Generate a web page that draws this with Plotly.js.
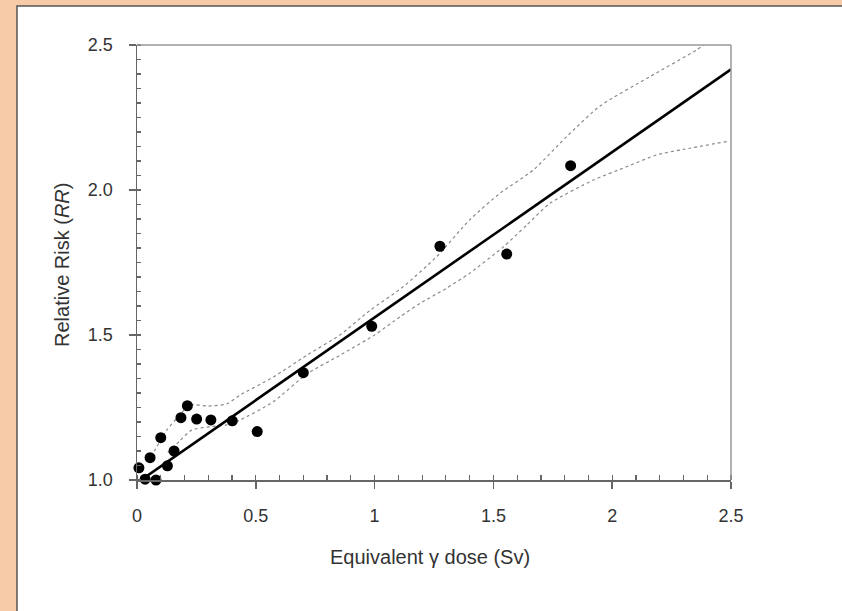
<!DOCTYPE html>
<html>
<head>
<meta charset="utf-8">
<script src="https://cdn.plot.ly/plotly-3.0.1.min.js"></script>
<style>html,body{margin:0;padding:0;background:#F8CBA8;}#chart{width:842px;height:611px;}</style>
</head>
<body>
<div id="chart"></div>
<script>
// Observed points
const doseX = [0.008, 0.034, 0.08, 0.055, 0.10, 0.128, 0.156, 0.185, 0.212, 0.251, 0.311, 0.401, 0.506, 0.70, 0.988, 1.275, 1.556, 1.825];
const rrY   = [1.042, 1.003, 1.0, 1.077, 1.146, 1.049, 1.10, 1.215, 1.256, 1.21, 1.207, 1.204, 1.167, 1.37, 1.53, 1.806, 1.779, 2.084];
// Fitted line
const fitX = [0, 2.5];
const fitY = [0.99, 2.416];
// Upper confidence curve
const upperX = [0.06, 0.125, 0.18, 0.223, 0.30, 0.377, 0.434, 0.574, 0.714, 0.854, 0.981, 1.121, 1.261, 1.40, 1.528, 1.668, 1.808, 1.949, 2.159, 2.355, 2.40];
const upperY = [1.08, 1.172, 1.224, 1.259, 1.255, 1.262, 1.293, 1.355, 1.43, 1.50, 1.585, 1.667, 1.77, 1.897, 1.989, 2.069, 2.184, 2.29, 2.391, 2.483, 2.51];
// Lower confidence curve
const lowerX = [0.13, 0.18, 0.23, 0.307, 0.377, 0.434, 0.574, 0.714, 0.854, 1.0, 1.107, 1.191, 1.30, 1.40, 1.542, 1.64, 1.738, 1.92, 2.06, 2.187, 2.30, 2.482];
const lowerY = [1.095, 1.135, 1.172, 1.184, 1.19, 1.207, 1.27, 1.365, 1.43, 1.50, 1.563, 1.609, 1.66, 1.713, 1.804, 1.879, 1.954, 2.034, 2.08, 2.121, 2.14, 2.167];
// Ticks
const xTickVals = [0, 0.5, 1, 1.5, 2, 2.5];
const xTickText = ['0', '0.5', '1', '1.5', '2', '2.5'];
const yTickVals = [1.0, 1.5, 2.0, 2.5];
const yTickText = ['1.0', '1.5', '2.0', '2.5'];

const L = 137, R = 731, T = 45, B = 480;
const W = 842, H = 611;
const px = v => (v - L) / (R - L);
const py = v => (B - v) / (B - T);

const ciStyle = {color: '#8a8a8a', width: 1.2, dash: '3px,3px', shape: 'spline', smoothing: 0.6};

const traces = [
  {x: upperX, y: upperY, mode: 'lines', line: ciStyle, hoverinfo: 'skip'},
  {x: lowerX, y: lowerY, mode: 'lines', line: ciStyle, hoverinfo: 'skip'},
  {x: fitX, y: fitY, mode: 'lines', line: {color: '#000', width: 2.6}},
  {x: doseX, y: rrY, mode: 'markers', cliponaxis: false, marker: {color: '#000', size: 11, line: {width: 0}}}
];

const fam = 'Liberation Sans, Arial, sans-serif';
const tickFont = {family: fam, size: 18, color: '#333'};

const layout = {
  width: W, height: H,
  paper_bgcolor: '#F8CBA8',
  plot_bgcolor: 'rgba(0,0,0,0)',
  showlegend: false,
  margin: {l: L, r: W - R, t: T, b: H - B},
  xaxis: {
    range: [0, 2.5], showgrid: false, zeroline: false,
    showline: true, linecolor: '#666', linewidth: 1.5,
    tickmode: 'array', tickvals: xTickVals, ticktext: xTickText,
    ticks: 'outside', ticklen: 7, tickcolor: '#666', tickwidth: 1.5,
    tickfont: tickFont, ticklabelstandoff: 12,
    minor: {dtick: 0.1, ticks: 'inside', ticklen: 5, tickcolor: '#666', tickwidth: 1.2, showgrid: false}
  },
  yaxis: {
    range: [1.0, 2.5], showgrid: false, zeroline: false,
    showline: true, linecolor: '#666', linewidth: 1.5,
    tickmode: 'array', tickvals: yTickVals, ticktext: yTickText,
    ticks: 'outside', ticklen: 7, tickcolor: '#666', tickwidth: 1.5,
    tickfont: tickFont, ticklabelstandoff: 12,
    minor: {dtick: 0.05, ticks: 'inside', ticklen: 4, tickcolor: '#666', tickwidth: 1.2, showgrid: false}
  },
  shapes: [
    {type: 'rect', xref: 'paper', yref: 'paper', layer: 'below',
     x0: px(17), x1: px(850), y0: py(620), y1: py(6),
     fillcolor: '#ffffff', line: {color: '#555', width: 1.5}},
    {type: 'line', xref: 'paper', yref: 'paper', x0: 0, x1: 1, y0: 1, y1: 1, line: {color: '#999', width: 1.5}},
    {type: 'line', xref: 'paper', yref: 'paper', x0: 1, x1: 1, y0: 0, y1: 1, line: {color: '#999', width: 1.5}}
  ],
  annotations: [
    {xref: 'paper', yref: 'paper', x: px(430), y: py(557), text: 'Equivalent γ dose (Sv)', showarrow: false,
     font: {family: fam, size: 20, color: '#333'}, xanchor: 'center', yanchor: 'middle'},
    {xref: 'paper', yref: 'paper', x: px(62), y: py(265), text: 'Relative Risk (<i>RR</i>)', showarrow: false, textangle: -90,
     font: {family: fam, size: 20, color: '#333'}, xanchor: 'center', yanchor: 'middle'}
  ]
};

Plotly.newPlot('chart', traces, layout, {staticPlot: true, displayModeBar: false});
</script>
</body>
</html>
